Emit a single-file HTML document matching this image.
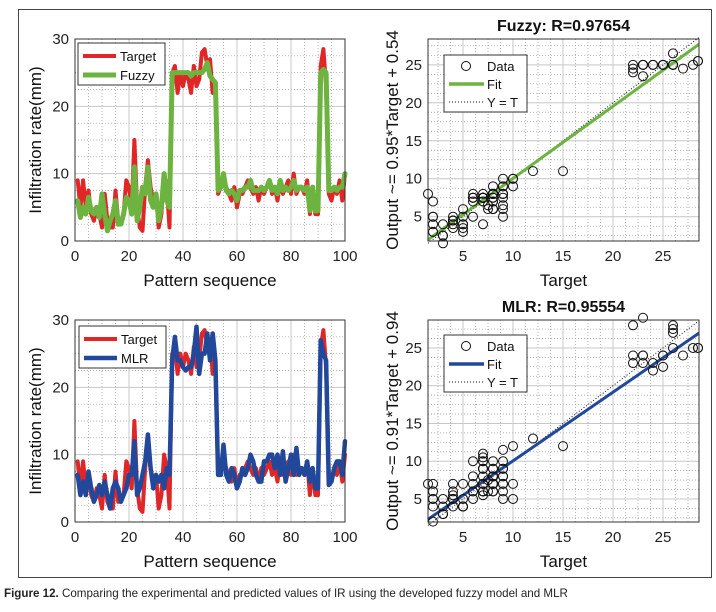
<!DOCTYPE html>
<html><head><meta charset="utf-8"><style>
body{margin:0;background:#fff;width:716px;height:607px;overflow:hidden;font-family:"Liberation Sans",Arial,sans-serif}
</style></head><body>
<svg id="fig" width="716" height="607" xmlns="http://www.w3.org/2000/svg" font-family="Liberation Sans, Arial, sans-serif">
<rect x="18.5" y="9.5" width="693" height="568" fill="none" stroke="#444" stroke-width="1"/>
<text x="4" y="597" font-size="11.6" fill="#222"><tspan font-weight="bold">Figure 12.</tspan> Comparing the experimental and predicted values of IR using the developed fuzzy model and MLR</text>
</svg>
<script>
const targetValues=[9,5,9,5,7.5,4,3,5,4,2,7,3,2,2,7.5,3,3,4,9,8,5,15,5,2,1.5,8,12,8,6,7,2,4,10,8,2,25,26,22,25,23,25,24,22,26,23,24,28,28.5,26,27,22,23,7,8,9,8,7,6,8,5,7,7,8,9,8,7,8,6,8,7,8,9,7,8,6,9,7,8,9,7,10,7,8,8,7,9,4,8,4,4,26,28.5,23,7,6,8,7,9,6,10];
const fuzzyValues=[6,3.5,5,4,6.5,4.5,4,5,3.5,7,4,1.5,3,4,6,2.5,2.5,4,6.5,6,4,11,3,5,8,7,11,6,5,7,3,5,10,6,5,25,25,25,25,25,25,25,24.5,25,25,25,25,25.5,26.5,24.5,24,23.5,7.5,8,10,7.5,7,7.5,7,6,7.5,7.5,8,8,9,7.5,7.5,7.5,8,7.5,8,9,7.5,8,7,9,7.5,8,7.5,8,9,7.5,8,8,7.5,8,4.5,8,4.5,4.5,25,25.5,25,7.5,7.5,8,7.5,8,8,10];
const mlrValues=[7,4,6,4,7.5,5,3,4,5.5,4,6,4,2,5,6,5,3,4,5,7,7,12,4,5,7,9,13,8,5,7,6,7,5,8,7,24,27.5,24,24,23,22.5,23,23,25,29,22,25,25,28,24,28,24,7,7,11.5,7,6,8,7,5,6,8,7,8,10,9,7,6,6,9,9,10,10,8,10,7,10.5,6,8,10,7,11,7,8,7,9,6,8,5,5,27,25,24,5.5,6,8,9,9,7,12];
const seqTicks=[0,20,40,60,80,100];
const rateTicks=[0,10,20,30];
const scatTicks=[5,10,15,20,25];
const fitFuzzy=[0.95,0.54];
const fitMLR=[0.91,0.94];
const svg=document.getElementById('fig');
const NS='http://www.w3.org/2000/svg';
function mk(tag,attrs,parent){const e=document.createElementNS(NS,tag);for(const k in attrs)e.setAttribute(k,attrs[k]);(parent||svg).appendChild(e);return e;}
function txt(s,attrs,parent){const e=mk('text',attrs,parent);e.textContent=s;return e;}

function panel(o){
  const g=mk('g',{});
  
  
  const sx=v=>o.x0+(v-o.xmin)/(o.xmax-o.xmin)*(o.x1-o.x0);
  const sy=v=>o.y1-(v-o.ymin)/(o.ymax-o.ymin)*(o.y1-o.y0);
  mk('rect',{x:o.x0,y:o.y0,width:o.x1-o.x0,height:o.y1-o.y0,fill:'#fff'},g);
  for(let v=Math.ceil(o.xmin/o.xminor)*o.xminor;v<=o.xmax;v+=o.xminor){const l=mk('line',{x1:sx(v),x2:sx(v),y1:o.y0,y2:o.y1,stroke:'#999','stroke-width':0.7,'stroke-dasharray':'1,2'},g);}
  for(let v=Math.ceil(o.ymin/o.yminor)*o.yminor;v<=o.ymax;v+=o.yminor){const l=mk('line',{x1:o.x0,x2:o.x1,y1:sy(v),y2:sy(v),stroke:'#999','stroke-width':0.7,'stroke-dasharray':'1,2'},g);}
  o.xt.forEach(v=>{const l=mk('line',{x1:sx(v),x2:sx(v),y1:o.y0,y2:o.y1,stroke:'#c8c8c8','stroke-width':1},g);
    const t=txt(String(v),{x:sx(v),y:o.y1+20,'font-size':15,'text-anchor':'middle',fill:'#222'},g);});
  o.yt.forEach(v=>{const l=mk('line',{x1:o.x0,x2:o.x1,y1:sy(v),y2:sy(v),stroke:'#c8c8c8','stroke-width':1},g);
    const t=txt(String(v),{x:o.x0-6,y:sy(v)+5,'font-size':15,'text-anchor':'end',fill:'#222'},g);});
  o.draw(g,sx,sy);
  const b=mk('rect',{x:o.x0,y:o.y0,width:o.x1-o.x0,height:o.y1-o.y0,fill:'none',stroke:'#333','stroke-width':1},g);
  
  const xl=txt(o.xlabel,{x:(o.x0+o.x1)/2,y:o.y1+45,'font-size':17,'text-anchor':'middle',fill:'#111'},g);
  
  const yx=o.ylx,yy=(o.y0+o.y1)/2;
  const yl=txt(o.ylabel,{x:yx,y:yy,'font-size':17,'text-anchor':'middle',fill:'#111',transform:`rotate(-90 ${yx} ${yy})`},g);
  
  if(o.title){const t=txt(o.title,{x:(o.x0+o.x1)/2,y:o.y0-8,'font-size':16,'font-weight':'bold','text-anchor':'middle',fill:'#111'},g);}
  return g;
}
function poly(g,vals,sx,sy,color,w,name){
  const pts=vals.map((v,i)=>sx(i+1)+','+sy(v)).join(' ');
  const p=mk('polyline',{points:pts,fill:'none',stroke:color,'stroke-width':w,'stroke-linejoin':'round','stroke-linecap':'round'},g);
  
}
function lineLegend(g,x,y,items){
  const box=mk('rect',{x:x,y:y,width:87,height:42,fill:'#fff',stroke:'#333','stroke-width':1},g);
  
  items.forEach((it,i)=>{const yy=y+13+i*19;
    const l=mk('line',{x1:x+5,x2:x+38,y1:yy,y2:yy,stroke:it[1],'stroke-width':it[2]},g);
    const t=txt(it[0],{x:x+42,y:yy+5,'font-size':13,fill:'#111'},g);});
}
function scatLegend(g,x,y,color){
  const box=mk('rect',{x:x,y:y,width:83,height:57,fill:'#fff',stroke:'#333','stroke-width':1},g);
  
  const c=mk('circle',{cx:x+22,cy:y+11,r:4.5,fill:'none',stroke:'#111','stroke-width':1},g);
  const l=mk('line',{x1:x+5,x2:x+40,y1:y+29,y2:y+29,stroke:color,'stroke-width':3.5},g);
  const d=mk('line',{x1:x+5,x2:x+40,y1:y+47,y2:y+47,stroke:'#111','stroke-width':1,'stroke-dasharray':'1,2'},g);
  [['Data',y+16],['Fit',y+34],['Y = T',y+52]].forEach(a=>{const t=txt(a[0],{x:x+43,y:a[1],'font-size':13,fill:'#111'},g);});
}
function scatter(g,sx,sy,xs,ys,fit,color,xmin,xmax){
  const yt=mk('line',{x1:sx(xmin),y1:sy(xmin),x2:sx(xmax),y2:sy(xmax),stroke:'#111','stroke-width':1,'stroke-dasharray':'1,2'},g);
  
  const f=mk('line',{x1:sx(xmin),y1:sy(fit[0]*xmin+fit[1]),x2:sx(xmax),y2:sy(fit[0]*xmax+fit[1]),stroke:color,'stroke-width':3},g);
  
  xs.forEach((v,i)=>{const c=mk('circle',{cx:sx(v),cy:sy(ys[i]),r:4.5,fill:'none',stroke:'#111','stroke-width':1},g);
    });
}
const RED='#e02626',GREEN='#6cb33f',BLUE='#22489c';
panel({name:'fuzzy-timeseries',x0:75,x1:345,y0:39,y1:241,xmin:0,xmax:100,ymin:0,ymax:30,xminor:5,yminor:2.5,xt:seqTicks,yt:rateTicks,
  xlabel:'Pattern sequence',ylabel:'Infiltration rate(mm)',ylx:41,
  draw:(g,sx,sy)=>{poly(g,targetValues,sx,sy,RED,4,'target-line');poly(g,fuzzyValues,sx,sy,GREEN,5,'fuzzy-line');lineLegend(g,78,43,[['Target',RED,4],['Fuzzy',GREEN,5]]);}});
panel({name:'mlr-timeseries',x0:75,x1:345,y0:320,y1:522,xmin:0,xmax:100,ymin:0,ymax:30,xminor:5,yminor:2.5,xt:seqTicks,yt:rateTicks,
  xlabel:'Pattern sequence',ylabel:'Infiltration rate(mm)',ylx:41,
  draw:(g,sx,sy)=>{poly(g,targetValues,sx,sy,RED,4,'target-line');poly(g,mlrValues,sx,sy,BLUE,4.5,'mlr-line');lineLegend(g,79,326,[['Target',RED,4],['MLR',BLUE,4.5]]);}});
panel({name:'fuzzy-regression',x0:428,x1:699,y0:39,y1:241,xmin:1.5,xmax:28.6,ymin:1.8,ymax:28.4,xminor:1.25,yminor:1.25,xt:scatTicks,yt:scatTicks,
  xlabel:'Target',ylabel:'Output ~= 0.95*Target + 0.54',ylx:398,title:'Fuzzy: R=0.97654',
  draw:(g,sx,sy)=>{scatter(g,sx,sy,targetValues,fuzzyValues,fitFuzzy,GREEN,1.5,28.6);scatLegend(g,444,55,GREEN);}});
panel({name:'mlr-regression',x0:428,x1:699,y0:320,y1:522,xmin:1.5,xmax:28.6,ymin:1.95,ymax:28.7,xminor:1.25,yminor:1.25,xt:scatTicks,yt:scatTicks,
  xlabel:'Target',ylabel:'Output ~= 0.91*Target + 0.94',ylx:398,title:'MLR: R=0.95554',
  draw:(g,sx,sy)=>{scatter(g,sx,sy,targetValues,mlrValues,fitMLR,BLUE,1.5,28.6);scatLegend(g,444,335,BLUE);}});
</script>
</body></html>
